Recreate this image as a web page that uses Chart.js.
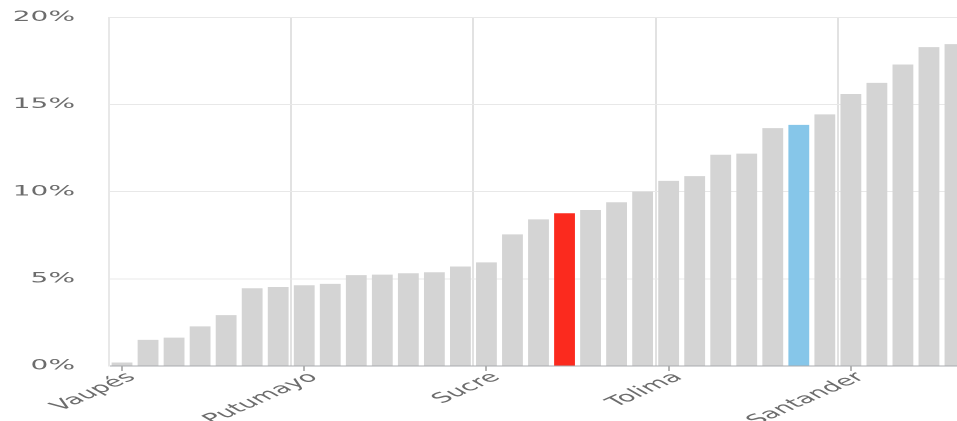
<!DOCTYPE html>
<html>
<head>
<meta charset="utf-8">
<script src="https://cdn.jsdelivr.net/npm/chart.js@4.4.1/dist/chart.umd.min.js"></script>
<style>
    html, body { margin: 0; padding: 0; background: #fff; overflow: hidden; }
    #wrap {
        position: absolute; left: 0; top: 0;
        width: 484px; height: 421px;
        transform: scaleX(2); transform-origin: 0 0;
    }
</style>
</head>
<body>
<div id="wrap"><canvas id="barChart"></canvas></div>
<script>
// Departments, sorted by share (only every 7th name is shown on the axis)
const departments = [
    'Vaupés', '', '', '', '', '', '',
    'Putumayo', '', '', '', '', '', '',
    'Sucre', '', '', '', '', '', '',
    'Tolima', '', '', '', '', '', '',
    'Santander', '', '', '', ''
];
const shares = [
    0.2, 1.5, 1.63, 2.27, 2.92, 4.46, 4.53,
    4.63, 4.71, 5.21, 5.24, 5.32, 5.38, 5.71,
    5.94, 7.55, 8.41, 8.76, 8.95, 9.39, 10.0,
    10.62, 10.89, 12.12, 12.18, 13.64, 13.83, 14.43,
    15.6, 16.24, 17.29, 18.29, 18.46
];
const yTicks = [0, 5, 10, 15, 20];
const redIndex = 17;
const blueIndex = 26;

document.addEventListener('DOMContentLoaded', function() {
    const barColors = shares.map((v, i) => {
        if (i === redIndex) return '#fb2a1e';
        if (i === blueIndex) return '#86c6e9';
        return '#d4d4d4';
    });

    const ctx = document.getElementById('barChart').getContext('2d');
    new Chart(ctx, {
        type: 'bar',
        data: {
            labels: departments,
            datasets: [{
                data: shares,
                backgroundColor: barColors,
                borderWidth: 0,
                barPercentage: 0.8,
                categoryPercentage: 1.0
            }]
        },
        options: {
            responsive: true,
            maintainAspectRatio: false,
            animation: false,
            devicePixelRatio: 2,
            layout: { padding: { top: 17.3, right: 0, left: 0, bottom: 0 } },
            plugins: {
                legend: { display: false },
                tooltip: { enabled: false }
            },
            scales: {
                x: {
                    weight: 1,
                    offset: true,
                    grid: {
                        offset: true,
                        drawTicks: false,
                        color: c => (c.index % 7 === 0 ? '#e2e2e2' : 'rgba(0,0,0,0)'),
                        lineWidth: 1
                    },
                    border: { color: '#a8abae', width: 1 },
                    ticks: {
                        autoSkip: false,
                        maxRotation: 41,
                        minRotation: 41,
                        padding: 3,
                        labelOffset: 5,
                        color: '#6c6c6c',
                        font: { family: 'DejaVu Sans', size: 14 },
                        callback: function(value, index) {
                            return index % 7 === 0 ? departments[index] : '';
                        }
                    },
                    afterFit: function(scale) {
                        scale.height = 55;
                        scale.paddingLeft = 0;
                        scale.paddingRight = 0;
                    }
                },
                x2: {
                    type: 'category',
                    position: 'bottom',
                    weight: 0,
                    labels: departments,
                    offset: true,
                    grid: {
                        offset: false,
                        drawOnChartArea: false,
                        drawTicks: true,
                        tickLength: 5,
                        color: c => (c.index % 7 === 0 ? '#b5b5b5' : 'rgba(0,0,0,0)')
                    },
                    border: { display: false },
                    ticks: { autoSkip: false, display: false },
                    afterFit: function(scale) {
                        scale.height = 0;
                        scale.paddingLeft = 0;
                        scale.paddingRight = 0;
                    }
                },
                y: {
                    min: 0,
                    max: 20,
                    afterBuildTicks: function(scale) {
                        scale.ticks = yTicks.map(v => ({ value: v }));
                    },
                    grid: { color: '#e8e8e8', drawTicks: false },
                    border: { display: true, color: '#e8e8e8' },
                    ticks: {
                        padding: 17,
                        color: '#6c6c6c',
                        font: { family: 'DejaVu Sans', size: 14 },
                        callback: v => v + '%'
                    },
                    afterFit: function(scale) {
                        scale.width = 54.5;
                        scale.paddingTop = 0;
                        scale.paddingBottom = 0;
                    }
                }
            }
        }
    });
});
</script>
</body>
</html>
